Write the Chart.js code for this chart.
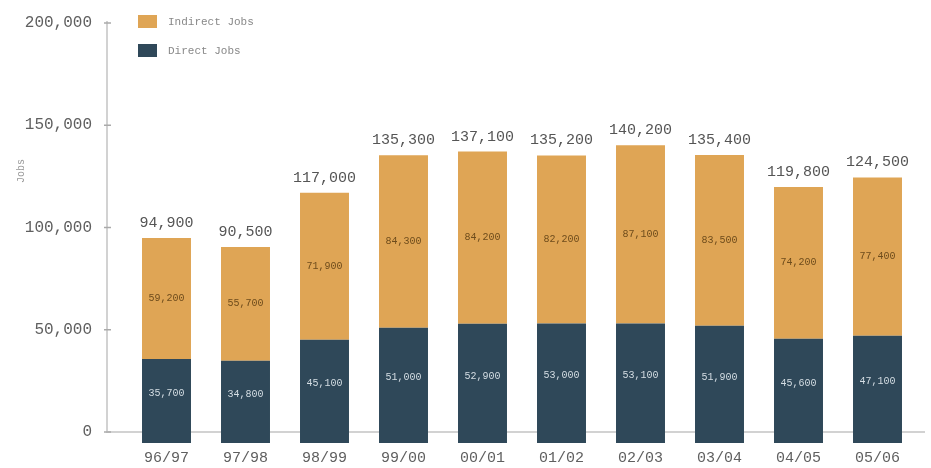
<!DOCTYPE html>
<html lang="en">
<head>
    <meta charset="UTF-8">
    <title>Jobs</title>
    <script src="https://cdn.jsdelivr.net/npm/chart.js"></script>
    <style>
        html, body { margin: 0; padding: 0; background: #fff; }
        .chart-container { position: relative; width: 931px; height: 468px; }
    </style>
</head>
<body>
    <div class="chart-container">
        <canvas id="jobsChart"></canvas>
    </div>
    <script>
        const categories = ["96/97", "97/98", "98/99", "99/00", "00/01", "01/02", "02/03", "03/04", "04/05", "05/06"];
        const directJobs = [35700, 34800, 45100, 51000, 52900, 53000, 53100, 51900, 45600, 47100];
        const indirectJobs = [59200, 55700, 71900, 84300, 84200, 82200, 87100, 83500, 74200, 77400];
        const yTicks = [0, 50000, 100000, 150000, 200000];
        const seriesNames = ["Indirect Jobs", "Direct Jobs"];

        const orange = "#dfa555";
        const navy = "#2f4859";
        const mono = "'Liberation Mono', 'DejaVu Sans Mono', monospace";
        const fmt = v => v.toLocaleString("en-US");

        const annotate = {
            id: "annotate",
            beforeDatasetsDraw(chart) {
                const { ctx, chartArea, scales: { y } } = chart;
                const axisX = chartArea.left - 20;
                const zeroY = y.getPixelForValue(0);
                ctx.save();
                ctx.strokeStyle = "#d2d2d2";
                ctx.lineWidth = 2;
                ctx.beginPath();
                ctx.moveTo(axisX, y.getPixelForValue(yTicks[yTicks.length - 1]) - 2);
                ctx.lineTo(axisX, zeroY);
                ctx.lineTo(chartArea.right + 8, zeroY);
                ctx.stroke();
                ctx.strokeStyle = "#aaa";
                ctx.lineWidth = 1.5;
                ctx.beginPath();
                yTicks.forEach(v => {
                    const py = y.getPixelForValue(v);
                    ctx.moveTo(axisX - 3, py);
                    ctx.lineTo(axisX + 4, py);
                });
                ctx.stroke();
                // axis title
                ctx.translate(21, chartArea.top + 148);
                ctx.rotate(-Math.PI / 2);
                ctx.fillStyle = "#999";
                ctx.font = "10px " + mono;
                ctx.textAlign = "center";
                ctx.textBaseline = "middle";
                ctx.fillText("Jobs", 0, 0);
                ctx.restore();
            },
            afterDatasetsDraw(chart) {
                const { ctx } = chart;
                const direct = chart.getDatasetMeta(0).data;
                const indirect = chart.getDatasetMeta(1).data;
                const zero = chart.scales.y.getPixelForValue(0);
                ctx.save();
                ctx.textAlign = "center";
                ctx.textBaseline = "middle";
                categories.forEach((c, i) => {
                    const d = direct[i], n = indirect[i];
                    ctx.font = "10px " + mono;
                    ctx.fillStyle = "#d4dde3";
                    ctx.fillText(fmt(directJobs[i]), d.x, (d.y + zero) / 2 - 2);
                    ctx.fillStyle = "#6e4c1c";
                    ctx.fillText(fmt(indirectJobs[i]), n.x, (n.y + n.base) / 2);
                    ctx.font = "15px " + mono;
                    ctx.fillStyle = "#555";
                    ctx.fillText(fmt(directJobs[i] + indirectJobs[i]), n.x, n.y - 15);
                });
                ctx.restore();
            },
            afterDraw(chart) {
                const { ctx } = chart;
                ctx.save();
                ctx.font = "11px " + mono;
                ctx.textBaseline = "middle";
                [orange, navy].forEach((col, i) => {
                    const top = 15 + i * 29;
                    ctx.fillStyle = col;
                    ctx.fillRect(138, top, 19, 13);
                    ctx.fillStyle = "#888";
                    ctx.fillText(seriesNames[i], 168, top + 7);
                });
                ctx.restore();
            }
        };

        const ctx = document.getElementById("jobsChart").getContext("2d");
        new Chart(ctx, {
            type: "bar",
            data: {
                labels: categories,
                datasets: [
                    {
                        label: seriesNames[1],
                        data: directJobs,
                        backgroundColor: navy,
                        base: -5400
                    },
                    {
                        label: seriesNames[0],
                        data: indirectJobs,
                        backgroundColor: orange
                    }
                ]
            },
            options: {
                responsive: true,
                maintainAspectRatio: false,
                animation: false,
                categoryPercentage: 1,
                barPercentage: 0.62,
                layout: { padding: { top: 23, left: 20, right: 14, bottom: 0 } },
                plugins: {
                    legend: { display: false },
                    tooltip: { enabled: false }
                },
                scales: {
                    x: {
                        stacked: true,
                        grid: { display: false, drawTicks: false },
                        border: { display: false },
                        afterFit(scale) {
                            scale.height = 25;
                            scale.paddingLeft = 0;
                            scale.paddingRight = 0;
                        },
                        ticks: {
                            color: "#5f5f5f",
                            padding: 8,
                            font: { family: mono, size: 15, lineHeight: 1 }
                        }
                    },
                    y: {
                        stacked: true,
                        min: -5400,
                        max: 200000,
                        grid: { display: false, drawTicks: false },
                        border: { display: false },
                        afterFit(scale) {
                            scale.width = 107;
                            scale.paddingTop = 0;
                            scale.paddingBottom = 0;
                        },
                        afterBuildTicks(scale) {
                            scale.ticks = yTicks.map(v => ({ value: v }));
                        },
                        ticks: {
                            color: "#5f5f5f",
                            padding: 35,
                            font: { family: mono, size: 16 },
                            callback: v => fmt(v)
                        }
                    }
                }
            },
            plugins: [annotate]
        });
    </script>
</body>
</html>
